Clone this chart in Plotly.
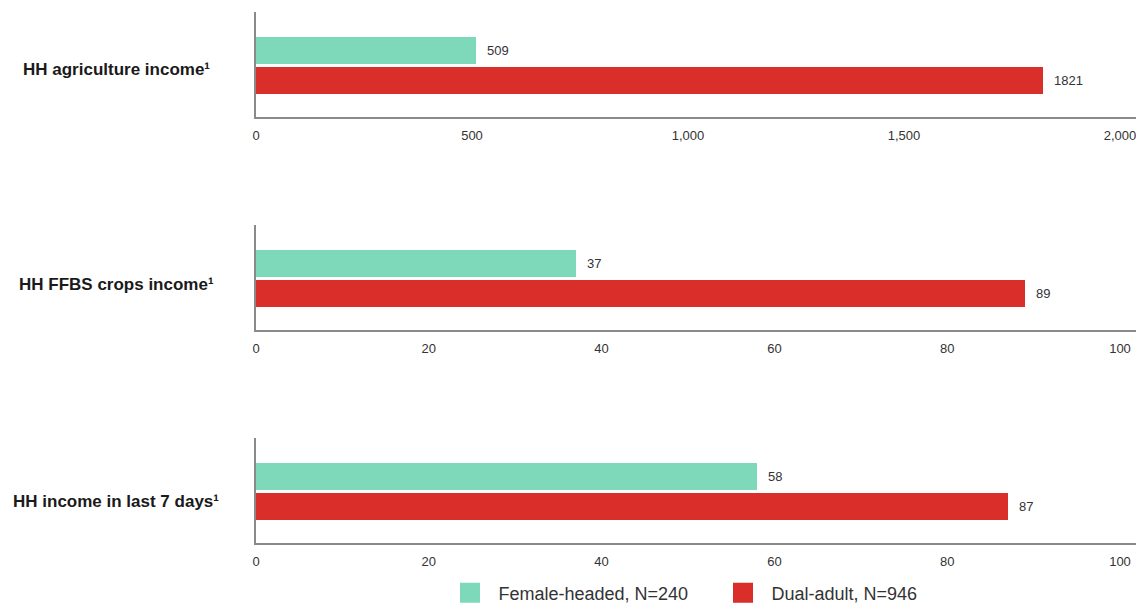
import plotly.graph_objects as go

W, H = 1136, 605

# Data
categories = ["HH agriculture income¹", "HH FFBS crops income¹", "HH income in last 7 days¹"]
series_names = ["Female-headed, N=240", "Dual-adult, N=946"]
female_values = [509, 37, 58]
dual_values = [1821, 89, 87]
axis_max = [2000, 100, 100]
axis_step = [500, 20, 20]

colors = ["#7dd9b9", "#d92e2a"]
FONT = "Liberation Sans, Arial, sans-serif"

fig = go.Figure()

# panel pixel boxes (top, bottom)
panels_px = [(12, 117), (225, 330), (438, 543)]
label_px = [69, 284, 501]
x_left_px = 256

for i in range(3):
    xa = "x" if i == 0 else f"x{i+1}"
    ya = "y" if i == 0 else f"y{i+1}"
    for j, (vals, name) in enumerate([(female_values, series_names[0]), (dual_values, series_names[1])]):
        fig.add_trace(go.Bar(
            x=[vals[i]], y=[2 - j], orientation="h", width=0.9,
            marker=dict(color=colors[j], line=dict(width=0)),
            name=name, showlegend=False, xaxis=xa, yaxis=ya,
            hoverinfo="x",
        ))
        fig.add_annotation(
            x=vals[i], y=2 - j, xref=xa, yref=ya, text=str(vals[i]),
            showarrow=False, xanchor="left", xshift=9,
            font=dict(family=FONT, size=13, color="#333333"),
        )
    top, bot = panels_px[i]
    dom = [1 - bot / H, 1 - top / H]
    xmax = axis_max[i] * (W - x_left_px) / (1120 - x_left_px)
    fig.layout[("xaxis" if i == 0 else f"xaxis{i+1}")] = dict(
        domain=[x_left_px / W, 1], range=[0, xmax], anchor=ya,
        tickmode="linear", tick0=0, dtick=axis_step[i], tickformat=",",
        showgrid=False, zeroline=False, showline=True, linecolor="#8a8a8a", linewidth=2,
        ticks="", ticklabelstandoff=5, ticklabeloverflow="allow",
        tickfont=dict(family=FONT, size=13, color="#333333"),
        fixedrange=True,
    )
    fig.layout[("yaxis" if i == 0 else f"yaxis{i+1}")] = dict(
        domain=dom, range=[-0.217, 3.283], anchor=xa,
        showgrid=False, zeroline=False, showline=True, linecolor="#8a8a8a", linewidth=2,
        showticklabels=False, ticks="", fixedrange=True,
    )
    fig.add_annotation(
        x=116 / W, y=1 - label_px[i] / H, xref="paper", yref="paper",
        text=f"<b>{categories[i]}</b>",
        showarrow=False, xanchor="center", yanchor="middle",
        font=dict(family=FONT, size=17, color="#1a1a1a"),
    )

# legend entries
for j in range(2):
    fig.add_trace(go.Scatter(
        x=[None], y=[None], mode="markers", name=series_names[j],
        marker=dict(symbol="square", size=16, color=colors[j],
                    line=dict(color=colors[j], width=4)),
        showlegend=True, xaxis="x3", yaxis="y3",
    ))

fig.update_layout(
    template="none",
    width=W, height=H,
    margin=dict(l=0, r=0, t=0, b=0, autoexpand=False),
    paper_bgcolor="white", plot_bgcolor="white",
    showlegend=True,
    legend=dict(
        orientation="h", x=(460 - 18.5) / W, xanchor="left", y=1 - 593 / H, yanchor="middle",
        font=dict(family=FONT, size=18, color="#333333"),
        itemsizing="trace", itemwidth=47, bgcolor="rgba(0,0,0,0)",
        entrywidth=211, entrywidthmode="pixels",
    ),
    bargap=0,
)

fig.write_html("out.html")
